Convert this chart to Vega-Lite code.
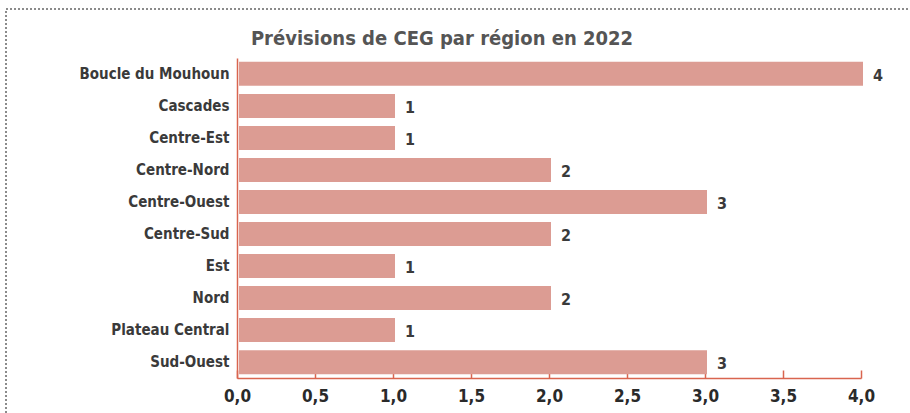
{
  "$schema": "https://vega.github.io/schema/vega-lite/v6.json",
  "width": 912,
  "height": 412,
  "autosize": {"type": "none"},
  "padding": {"left": 6, "top": 9, "right": -8, "bottom": -8},
  "background": "white",
  "title": {
    "text": "Prévisions de CEG par région en 2022",
    "font": "DejaVu Sans Condensed",
    "fontWeight": "bold",
    "fontSize": 20,
    "color": "#555555",
    "anchor": "middle",
    "frame": "group",
    "dx": -20,
    "offset": -40
  },
  "data": {
    "values": [
      {"region": "Boucle du Mouhoun", "ceg": 4},
      {"region": "Cascades", "ceg": 1},
      {"region": "Centre-Est", "ceg": 1},
      {"region": "Centre-Nord", "ceg": 2},
      {"region": "Centre-Ouest", "ceg": 3},
      {"region": "Centre-Sud", "ceg": 2},
      {"region": "Est", "ceg": 1},
      {"region": "Nord", "ceg": 2},
      {"region": "Plateau Central", "ceg": 1},
      {"region": "Sud-Ouest", "ceg": 3}
    ]
  },
  "encoding": {
    "y": {
      "field": "region",
      "type": "nominal",
      "sort": null,
      "scale": {"range": [49, 369], "paddingInner": 0.25, "paddingOuter": 0.12},
      "axis": {
        "title": null,
        "ticks": false,
        "offset": -231,
        "domainColor": "#d9654f",
        "domainWidth": 1.5,
        "labelFont": "DejaVu Sans Condensed",
        "labelFontWeight": "bold",
        "labelFontSize": 15,
        "labelColor": "#3a3a3a",
        "labelPadding": 8
      }
    },
    "x": {
      "field": "ceg",
      "type": "quantitative",
      "scale": {"domain": [0, 4], "range": [231, 855]},
      "axis": {
        "title": null,
        "tickCount": 8,
        "grid": false,
        "offset": -43,
        "domainColor": "#d9654f",
        "domainWidth": 1.5,
        "tickColor": "#d9654f",
        "tickWidth": 1.5,
        "tickSize": -8,
        "labelFlush": false,
        "labelFont": "DejaVu Sans Condensed",
        "labelFontWeight": "bold",
        "labelFontSize": 17,
        "labelColor": "#2a2a2a",
        "labelPadding": 18,
        "labelExpr": "replace(format(datum.value, '.1f'), '.', ',')"
      }
    }
  },
  "layer": [
    {"mark": {"type": "bar", "color": "#dc9c93", "xOffset": 2}},
    {
      "mark": {
        "type": "text",
        "align": "left",
        "baseline": "middle",
        "dx": 12,
        "dy": 2,
        "font": "DejaVu Sans Condensed",
        "fontWeight": "bold",
        "fontSize": 16,
        "color": "#3a3a3a"
      },
      "encoding": {"text": {"field": "ceg", "type": "quantitative"}}
    }
  ],
  "config": {"view": {"stroke": "#666666", "strokeWidth": 1.5, "strokeDash": [2, 2]}}
}
